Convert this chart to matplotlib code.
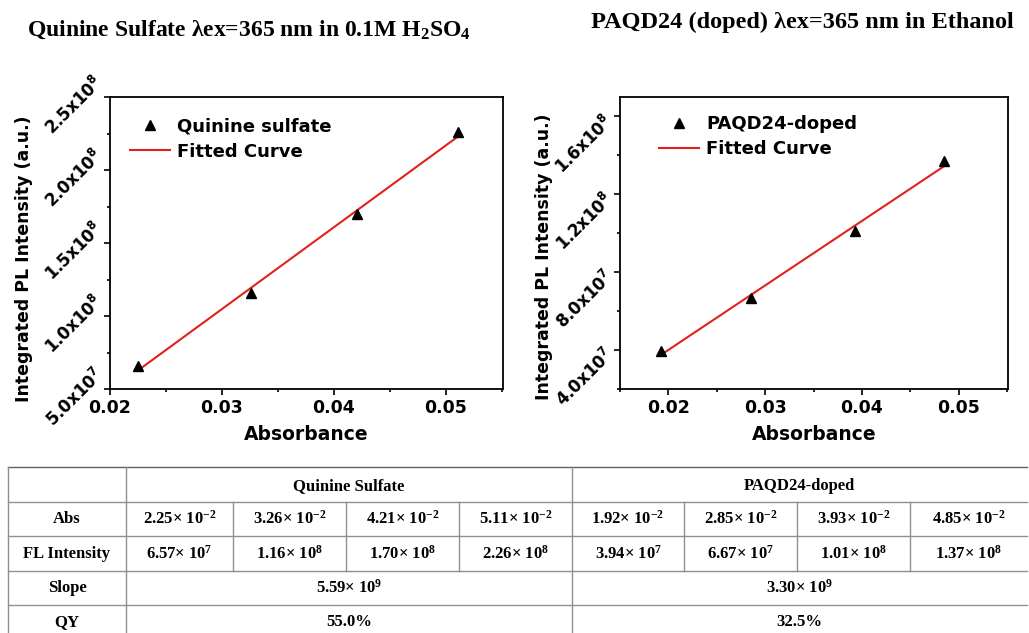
import numpy as np
import matplotlib
matplotlib.use("Agg")
import matplotlib.pyplot as plt
from matplotlib.ticker import MultipleLocator
from matplotlib.transforms import ScaledTranslation

plt.rcParams['mathtext.fontset'] = 'custom'
plt.rcParams['mathtext.rm'] = 'Liberation Serif:bold'
plt.rcParams['mathtext.it'] = 'Liberation Serif:bold'
plt.rcParams['mathtext.bf'] = 'Liberation Serif:bold'

# ---- data ----
qs_abs = [0.0225, 0.0326, 0.0421, 0.0511]
qs_int = [6.57e7, 1.16e8, 1.70e8, 2.26e8]
pa_abs = [0.0192, 0.0285, 0.0393, 0.0485]
pa_int = [3.94e7, 6.67e7, 1.01e8, 1.37e8]
qs_slope = 5.59e9
pa_slope = 3.30e9
qs_qy = "55.0%"
pa_qy = "32.5%"
qs_yticks = [5.0e7, 1.0e8, 1.5e8, 2.0e8, 2.5e8]
pa_yticks = [4.0e7, 8.0e7, 1.2e8, 1.6e8]
xticks = [0.02, 0.03, 0.04, 0.05]
titles = ["Quinine Sulfate λex=365 nm in 0.1M H$_2$SO$_4$",
          "PAQD24 (doped) λex=365 nm in Ethanol"]
legend_names = ["Quinine sulfate", "PAQD24-doped"]
group_names = ["Quinine Sulfate", "PAQD24-doped"]
row_names = ["Abs", "FL Intensity", "Slope", "QY"]

W, H = 1029, 633
fig = plt.figure(figsize=(W / 100, H / 100), dpi=100)


def sci_label(v):
    e = int(np.floor(np.log10(v)))
    m = v / 10 ** e
    return r"$\mathbf{%.1fx10^{%d}}$" % (m, e)


def tex_sci(v):
    e = int(np.floor(np.log10(abs(v))))
    m = v / 10 ** e
    return "%.2f× 10$^{%d}$" % (m, e)


def make_panel(rect, x, y, xlim, ylim, yticks, yminor, name, title, title_xy, title_fs,
               lab_dy, ylab_xy, leg_anchor):
    ax = fig.add_axes(rect)
    ax.plot(x, y, ls='none', marker='^', color='black', ms=7.5, label=name, zorder=3)
    coef = np.polyfit(x, y, 1)
    xs = np.array([x[0], x[-1]])
    ax.plot(xs, np.polyval(coef, xs), color='#e3201b', lw=1.5, label='Fitted Curve', zorder=2)
    ax.set_xlim(*xlim)
    ax.set_ylim(*ylim)
    ax.set_xticks(xticks, labels=["%.2f" % t for t in xticks],
                  fontsize=12.5, fontweight='bold', family='DejaVu Sans')
    ax.xaxis.set_minor_locator(MultipleLocator(0.005))
    ax.set_yticks(yticks, labels=[sci_label(t) for t in yticks],
                  rotation=45, ha='right', va='center', rotation_mode='anchor',
                  fontsize=12, math_fontfamily='dejavusans')
    ax.yaxis.set_minor_locator(MultipleLocator(yminor))
    ax.tick_params(which='both', direction='out', width=1.2, top=False, right=False)
    ax.tick_params(which='major', length=4, pad=3)
    ax.tick_params(which='minor', length=2.5)
    off = ScaledTranslation(0, -lab_dy / 100, fig.dpi_scale_trans)
    for t in ax.yaxis.get_major_ticks():
        t.label1.set_transform(t.label1.get_transform() + off)
    for s in ax.spines.values():
        s.set_linewidth(1.3)
    ax.set_xlabel("Absorbance", fontsize=13.5, fontweight='bold', family='DejaVu Sans', labelpad=6)
    ax.set_ylabel("Integrated PL Intensity (a.u.)", fontsize=12.5, fontweight='bold',
                  family='DejaVu Sans')
    ax.yaxis.set_label_coords(*ylab_xy)
    ax.legend(loc='upper left', frameon=False, handlelength=2.2,
              prop={'family': 'DejaVu Sans', 'weight': 'bold', 'size': 13},
              borderaxespad=0.4, labelspacing=0.4, handletextpad=0.4,
              bbox_to_anchor=leg_anchor)
    fig.text(title_xy[0] / W, 1 - title_xy[1] / H, title, family='Liberation Serif',
             fontweight='bold', fontsize=title_fs, ha='center', va='center')
    return ax


make_panel([110 / W, 1 - 389 / H, 393 / W, 292 / H], qs_abs, qs_int,
           (0.02, 0.0551), (5e7, 2.5e8), qs_yticks, 2.5e7, legend_names[0], titles[0], (249, 30), 17,
           -17, (-0.196, 0.445), (0.015, 0.98))
make_panel([620 / W, 1 - 389 / H, 388 / W, 292 / H], pa_abs, pa_int,
           (0.015, 0.0551), (2e7, 1.7e8), pa_yticks, 2e7, legend_names[1], titles[1], (802, 22), 17.5,
           2, (-0.173, 0.452), (0.064, 0.987))

# ---- table ----
tab = fig.add_axes([0, 0, 1, 1])
tab.set_xlim(0, W)
tab.set_ylim(H, 0)
tab.axis('off')
col_x = [8, 126, 233, 346, 459, 572, 684, 797, 910, 1027]
row_y = [467, 502, 536, 571, 605, 640]
lc = '#8f8f8f'
fs = 12
for i, yy in enumerate(row_y[:-1]):
    tab.plot([col_x[0], col_x[-1]], [yy, yy], color='#606060' if i == 0 else lc, lw=1.0)
tab.plot([col_x[0]] * 2, [row_y[0], H], color=lc, lw=1.0)
tab.plot([col_x[1]] * 2, [row_y[0], H], color=lc, lw=1.0)
tab.plot([col_x[5]] * 2, [row_y[0], H], color=lc, lw=1.0)
for c in [2, 3, 4, 6, 7, 8]:
    tab.plot([col_x[c]] * 2, [row_y[1], row_y[3]], color=lc, lw=1.0)

tk = dict(family='Liberation Serif', fontweight='bold', fontsize=fs, ha='center', va='center')
for r, nm in enumerate(row_names):
    yy = (row_y[r + 1] + row_y[r + 2]) / 2 if r < 3 else 622
    tab.text((col_x[0] + col_x[1]) / 2, yy, nm, **tk)
tab.text((col_x[1] + col_x[5]) / 2, 486, group_names[0], **tk)
tab.text((col_x[5] + col_x[9]) / 2, 486, group_names[1], **tk)
for g, (ab, it, sl, qy) in enumerate([(qs_abs, qs_int, qs_slope, qs_qy),
                                      (pa_abs, pa_int, pa_slope, pa_qy)]):
    base = 1 + 4 * g
    for j in range(4):
        cx = (col_x[base + j] + col_x[base + j + 1]) / 2
        tab.text(cx, (row_y[1] + row_y[2]) / 2, tex_sci(ab[j]), **tk)
        tab.text(cx, (row_y[2] + row_y[3]) / 2, tex_sci(it[j]), **tk)
    gx = (col_x[base] + col_x[base + 4]) / 2
    tab.text(gx, (row_y[3] + row_y[4]) / 2, tex_sci(sl), **tk)
    tab.text(gx, 622, qy, **tk)

fig.savefig("out.png", dpi=100)
